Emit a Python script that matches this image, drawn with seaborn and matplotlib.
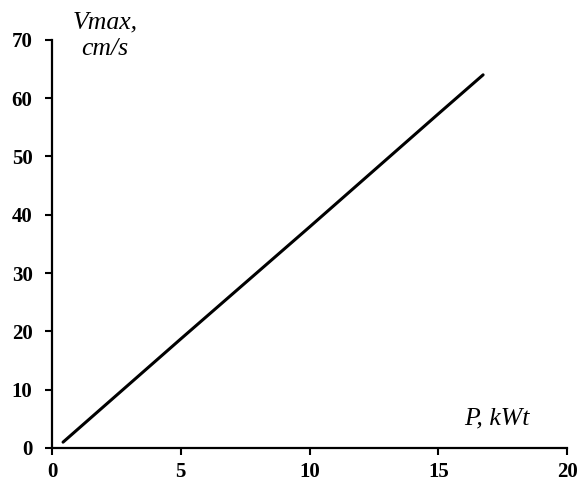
import numpy as np
import pandas as pd
import seaborn as sns
import matplotlib.pyplot as plt

# data
power_kwt = [0.43, 5, 10, 15, 16.74]
vmax_cms = [1.0, 18.7, 37.9, 57.3, 64.0]
x_ticks = [0, 5, 10, 15, 20]
y_ticks = [0, 10, 20, 30, 40, 50, 60, 70]

df = pd.DataFrame({'P': power_kwt, 'Vmax': vmax_cms})

sns.set_theme(style='ticks')
plt.rcParams['font.family'] = ['Liberation Serif', 'DejaVu Serif']
plt.rcParams['text.color'] = 'black'
plt.rcParams['xtick.color'] = 'black'
plt.rcParams['ytick.color'] = 'black'

fig = plt.figure(figsize=(5.84, 4.83), dpi=100)
ax = fig.add_axes([0.089, 0.0725, 0.882, 0.845])

sns.lineplot(data=df, x='P', y='Vmax', color='black', linewidth=2.2, ax=ax)

ax.set_xlim(0, 20)
ax.set_ylim(0, 70)
ax.set_xticks(x_ticks)
ax.set_yticks(y_ticks)
ax.tick_params(axis='both', labelsize=15, width=1.5, length=5,
               color='black', labelcolor='black')
ax.tick_params(axis='x', pad=5)
ax.tick_params(axis='y', pad=9)
for lab in ax.get_xticklabels() + ax.get_yticklabels():
    lab.set_fontweight('bold')

for side in ['top', 'right']:
    ax.spines[side].set_visible(False)
for side in ['left', 'bottom']:
    ax.spines[side].set_linewidth(1.6)
    ax.spines[side].set_color('black')

ax.set_xlabel('')
ax.set_ylabel('')

# axis captions placed as in the original
fig.text(105 / 584, 1 - 36 / 483, 'Vmax,\ncm/s', ha='center', va='center',
         fontsize=18.5, style='italic', linespacing=1.25, color='black')
fig.text(497 / 584, 1 - 418 / 483, 'P, kWt', ha='center', va='center',
         fontsize=18.5, style='italic', color='black')

plt.savefig('out.png', dpi=100)
